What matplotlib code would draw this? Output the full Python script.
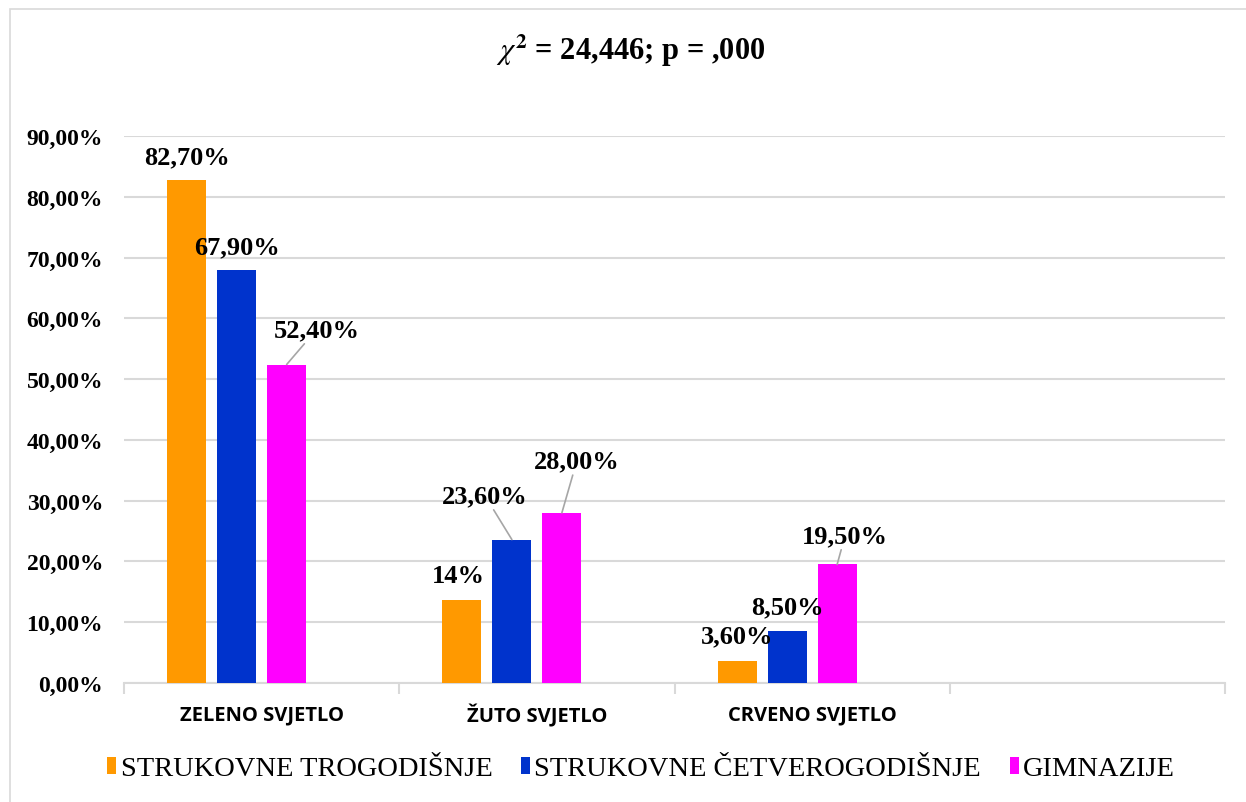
import numpy as np
import matplotlib.pyplot as plt
from matplotlib.patches import Rectangle

# podaci
categories = ['ZELENO SVJETLO', 'ŽUTO SVJETLO', 'CRVENO SVJETLO', '']
series_names = ['STRUKOVNE TROGODIŠNJE', 'STRUKOVNE ČETVEROGODIŠNJE', 'GIMNAZIJE']
trogodisnje = [82.7, 13.7, 3.6]
cetverogodisnje = [67.9, 23.6, 8.5]
gimnazije = [52.4, 28.0, 19.5]
labels_trog = ['82,70%', '14%', '3,60%']
labels_cetv = ['67,90%', '23,60%', '8,50%']
labels_gimn = ['52,40%', '28,00%', '19,50%']
yticks = [0, 10, 20, 30, 40, 50, 60, 70, 80, 90]
title = r'$\chi^{\mathbf{2}}$ = 24,446; p = ,000'

colors = ['#FF9900', '#0033CC', '#FF00FF']
# pomaci oznaka (px) i da li ide linija do stupca
offsets = [
    [(0, 24, False), (-4, 24, False), (0, 25, False)],
    [(0, 24, False), (-27, 44, True), (0, 25, False)],
    [(30, 35, True), (15, 52, True), (8, 29, True)],
]

plt.rcParams['font.family'] = ['Liberation Serif', 'DejaVu Serif']
plt.rcParams['mathtext.fontset'] = 'stix'

fig = plt.figure(figsize=(12.46, 8.03), dpi=100)
ax = fig.add_axes([124 / 1246, (803 - 684) / 803, (1225 - 124) / 1246, (684 - 137) / 803])

fig.patches.append(Rectangle((10 / 1246, -0.1), 1.2, (793 / 803) + 0.1, transform=fig.transFigure,
                             fill=False, edgecolor='#D9D9D9', linewidth=1.2, clip_on=False))

slot = 275.25
step = 50 / slot
width = 39 / slot
x = np.arange(len(trogodisnje))
all_series = [trogodisnje, cetverogodisnje, gimnazije]
all_labels = [labels_trog, labels_cetv, labels_gimn]

for i, (vals, labs) in enumerate(zip(all_series, all_labels)):
    pos = x + (i - 1.5) * step
    ax.bar(pos, vals, width, color=colors[i], label=series_names[i], zorder=3)
    for j in range(len(vals)):
        dx, dy, line = offsets[i][j]
        kw = {}
        if line:
            kw['arrowprops'] = dict(arrowstyle='-', color='#A6A6A6', lw=1.2, shrinkA=0, shrinkB=0)
        ax.annotate(labs[j], (pos[j], vals[j]), xytext=(dx, dy), textcoords='offset pixels',
                    ha='center', va='center', fontsize=19, fontweight='bold', zorder=4, **kw)

ax.set_xlim(-0.5, 3.5)
ax.set_ylim(0, 90)
ax.set_yticks(yticks)
ax.set_yticklabels([f'{v:.2f}%'.replace('.', ',') for v in yticks], fontsize=17, fontweight='bold')
ax.tick_params(axis='y', length=0, pad=15)
ax.grid(axis='y', color='#D9D9D9', linewidth=1.5, zorder=0)
ax.set_axisbelow(True)

ax.set_xticks(np.arange(len(categories)))
ax.set_xticklabels(categories, family=['Open Sans', 'DejaVu Sans'], fontweight='bold', fontsize=14.5)
for t in ax.get_xticklabels():
    t.set_va('center')
ax.set_xticks(np.arange(-0.5, 4, 1), minor=True)
ax.tick_params(axis='x', which='major', length=0, pad=23)
ax.tick_params(axis='x', which='minor', length=8, color='#D9D9D9', width=1.5)

for s in ['top', 'right', 'left']:
    ax.spines[s].set_visible(False)
ax.spines['bottom'].set_color('#D9D9D9')
ax.spines['bottom'].set_linewidth(1.5)

fig.text(631 / 1246, 1 - 51 / 803, title, ha='center', va='center', fontsize=22, fontweight='bold')

fig.legend(loc='center', bbox_to_anchor=(641 / 1246, 1 - 770 / 803), ncol=3, frameon=False,
           fontsize=20.5, handlelength=0.33, handleheight=0.55, handletextpad=0.15, columnspacing=1.0)

fig.savefig('out.png', dpi=100)
